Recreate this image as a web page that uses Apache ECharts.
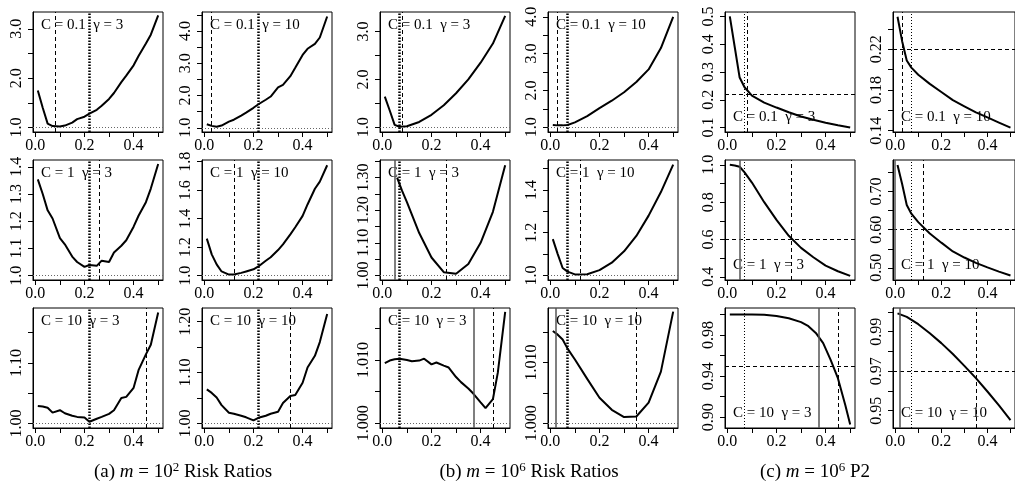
<!DOCTYPE html>
<html>
<head>
<meta charset="utf-8">
<script src="https://cdn.jsdelivr.net/npm/echarts@6/dist/echarts.min.js"></script>
<style>
  html, body { margin: 0; padding: 0; background: #fff; }
  #chart { width: 1015px; height: 493px; }
</style>
</head>
<body>
<div id="chart"></div>
<script>
// x grids
const xA = [0.01, 0.03, 0.05, 0.07, 0.1, 0.12, 0.15, 0.17, 0.2, 0.22, 0.25, 0.27, 0.3, 0.32, 0.35, 0.37, 0.4, 0.42, 0.45, 0.47, 0.5];
const xB = [0.01, 0.03, 0.05, 0.07, 0.1, 0.15, 0.2, 0.25, 0.3, 0.35, 0.4, 0.45, 0.5];
const xB3 = [0.06, 0.08, 0.1, 0.15, 0.2, 0.25, 0.3, 0.35, 0.4, 0.45, 0.5];
const xC5 = [0.01, 0.05, 0.1, 0.15, 0.2, 0.25, 0.3, 0.33, 0.36, 0.39, 0.42, 0.45, 0.48, 0.5];
const xC6 = [0.01, 0.05, 0.1, 0.15, 0.2, 0.25, 0.3, 0.35, 0.4, 0.45, 0.5];

// (a) m = 10^2 risk ratios
const a1 = [1.75, 1.40, 1.08, 1.03, 1.02, 1.04, 1.10, 1.17, 1.22, 1.28, 1.36, 1.44, 1.58, 1.70, 1.92, 2.05, 2.26, 2.45, 2.70, 2.88, 3.27];
const a2 = [1.11, 1.06, 1.03, 1.07, 1.19, 1.25, 1.38, 1.47, 1.62, 1.73, 1.87, 1.97, 2.25, 2.33, 2.60, 2.86, 3.26, 3.45, 3.60, 3.80, 4.45];
const a3 = [1.354, 1.30, 1.24, 1.21, 1.138, 1.115, 1.07, 1.05, 1.032, 1.039, 1.036, 1.055, 1.05, 1.085, 1.11, 1.13, 1.18, 1.22, 1.27, 1.32, 1.41];
const a4 = [1.26, 1.15, 1.08, 1.03, 1.008, 1.008, 1.02, 1.03, 1.045, 1.065, 1.105, 1.13, 1.18, 1.22, 1.29, 1.34, 1.42, 1.50, 1.61, 1.66, 1.775];
const a5 = [1.029, 1.028, 1.026, 1.018, 1.022, 1.017, 1.013, 1.011, 1.01, 1.003, 1.008, 1.011, 1.016, 1.022, 1.042, 1.044, 1.059, 1.088, 1.114, 1.13, 1.183];
const a6 = [1.067, 1.06, 1.051, 1.036, 1.021, 1.019, 1.015, 1.012, 1.006, 1.011, 1.015, 1.019, 1.023, 1.04, 1.054, 1.056, 1.08, 1.11, 1.133, 1.16, 1.215];
// (b) m = 10^6 risk ratios
const b1 = [1.64, 1.35, 1.05, 1.01, 1.02, 1.11, 1.26, 1.46, 1.71, 2.0, 2.35, 2.75, 3.33];
const b2 = [1.06, 1.05, 1.05, 1.06, 1.13, 1.3, 1.52, 1.72, 1.95, 2.23, 2.57, 3.15, 4.0];
const b3 = [1.30, 1.26, 1.225, 1.13, 1.055, 1.01, 1.005, 1.035, 1.10, 1.195, 1.338];
const b4 = [1.17, 1.10, 1.035, 1.018, 1.005, 1.006, 1.025, 1.06, 1.113, 1.185, 1.28, 1.39, 1.518];
const b5 = [1.0095, 1.0099, 1.0101, 1.0102, 1.0100, 1.0098, 1.0099, 1.0102, 1.0093, 1.0096, 1.0091, 1.0088, 1.0073, 1.0065, 1.0055, 1.0047, 1.0033, 1.0024, 1.0038, 1.0080, 1.0176];
const b6 = [1.0152, 1.0146, 1.0138, 1.0123, 1.0105, 1.0073, 1.0042, 1.0022, 1.0010, 1.0011, 1.0034, 1.0085, 1.0184];
// (c) m = 10^6 P2
const c1 = [0.5, 0.39, 0.28, 0.245, 0.215, 0.19, 0.172, 0.155, 0.14, 0.128, 0.117, 0.108, 0.1];
const c2 = [0.252, 0.228, 0.209, 0.202, 0.195, 0.186, 0.178, 0.170, 0.164, 0.158, 0.153, 0.148, 0.143];
const c3 = [1.0, 0.997, 0.99, 0.96, 0.905, 0.80, 0.705, 0.62, 0.555, 0.505, 0.46, 0.43, 0.405];
const c4 = [0.77, 0.72, 0.665, 0.642, 0.62, 0.59, 0.566, 0.543, 0.527, 0.513, 0.501, 0.49, 0.48];
const c5 = [1.0, 1.0, 0.9999, 0.9996, 0.9985, 0.9962, 0.9925, 0.9885, 0.982, 0.972, 0.956, 0.938, 0.912, 0.893];
const c6 = [0.9993, 0.9975, 0.9938, 0.9892, 0.9842, 0.9787, 0.9727, 0.9665, 0.9597, 0.9527, 0.9452];

const panelX = [xA, xA, xB, xB, xB, xB, xA, xA, xB3, xB, xB, xB, xA, xA, xA, xB, xC5, xC6];
const panelY = [a1, a2, b1, b2, c1, c2, a3, a4, b3, b4, c3, c4, a5, a6, b5, b6, c5, c6];

// reference lines, one entry per panel (row by row)
const thickDotX = [0.218, 0.217, 0.069, 0.073, null, null, 0.218, 0.22, 0.068, 0.07, null, null, 0.22, 0.22, 0.066, 0.071, null, null];
const dashedX = [0.082, 0.027, 0.08, 0.026, 0.083, 0.03, 0.263, 0.118, 0.259, 0.118, 0.259, 0.121, 0.453, 0.353, 0.445, 0.349, 0.449, 0.353];
const dottedX = [null, null, null, null, 0.069, 0.073, null, null, null, null, 0.068, 0.073, null, null, null, null, 0.069, 0.073];
const solidX = [null, null, null, null, null, null, null, null, 0.053, null, 0.054, 0.003, null, null, 0.37, 0.019, 0.373, 0.022];
const hLineY = [1, 1, 1, 1, 0.224, 0.2205, 1, 1, 1, 1, 0.605, 0.604, 1, 1, 1, 1, 0.9476, 0.9694];

// axes
const xTicks = [0, 0.1, 0.2, 0.3, 0.4, 0.5];
const xLabels = [0, 0.2, 0.4];
const yMin = [0.91, 0.87, 0.90, 0.87, 0.084, 0.1387, 0.984, 0.97, 0.986, 0.979, 0.383, 0.468, 0.9927, 0.991, 0.99926, 0.9992, 0.8896, 0.9412];
const yMax = [3.34, 4.59, 3.41, 4.13, 0.516, 0.2567, 1.425, 1.812, 1.354, 1.54, 1.026, 0.783, 1.1905, 1.227, 1.0182, 1.019, 1.0062, 1.002];
const yTicks = [
  [1, 1.5, 2, 2.5, 3], [1, 1.5, 2, 2.5, 3, 3.5, 4, 4.5], [1, 1.5, 2, 2.5, 3], [1, 1.5, 2, 2.5, 3, 3.5, 4],
  [0.1, 0.2, 0.3, 0.4, 0.5], [0.14, 0.16, 0.18, 0.2, 0.22, 0.24],
  [1, 1.1, 1.2, 1.3, 1.4], [1, 1.2, 1.4, 1.6, 1.8], [1, 1.05, 1.1, 1.15, 1.2, 1.25, 1.3, 1.35], [1, 1.1, 1.2, 1.3, 1.4, 1.5],
  [0.4, 0.5, 0.6, 0.7, 0.8, 0.9, 1.0], [0.5, 0.55, 0.6, 0.65, 0.7, 0.75],
  [1, 1.05, 1.1, 1.15], [1, 1.05, 1.1, 1.15, 1.2], [1, 1.005, 1.01, 1.015], [1, 1.005, 1.01, 1.015],
  [0.9, 0.92, 0.94, 0.96, 0.98, 1.0], [0.95, 0.96, 0.97, 0.98, 0.99, 1.0]
];
const yLabels = [
  [1, 2, 3], [1, 2, 3, 4], [1, 2, 3], [1, 2, 3, 4],
  [0.1, 0.2, 0.3, 0.4, 0.5], [0.14, 0.18, 0.22],
  [1, 1.1, 1.2, 1.3, 1.4], [1, 1.2, 1.4, 1.6, 1.8], [1, 1.1, 1.2, 1.3], [1, 1.2, 1.4],
  [0.4, 0.6, 0.8, 1.0], [0.5, 0.6, 0.7],
  [1, 1.1], [1, 1.1, 1.2], [1, 1.01], [1, 1.01],
  [0.9, 0.94, 0.98], [0.95, 0.97, 0.99]
];
const yDigits = [1, 1, 1, 1, 1, 2, 1, 1, 2, 1, 1, 2, 2, 2, 3, 3, 2, 2];

const cValues = ['0.1', '1', '10'];
const gammas = ['3', '10', '3', '10', '3', '10'];
const captions = ['(a) {i|m} = 10{s|2} Risk Ratios', '(b) {i|m} = 10{s|6} Risk Ratios', '(c) {i|m} = 10{s|6} P2'];

const colLeft = [33, 202, 380, 548, 725, 893];
const rowTop = [12, 160, 308];
const W = 130, H = 120;
const FONT = 'Liberation Serif';

var chart = echarts.init(document.getElementById('chart'));

let grids = [], xAxes = [], yAxes = [], series = [], graphics = [];
for (let i = 0; i < 18; i++) {
  let r = Math.floor(i / 6), c = i % 6;
  grids.push({
    left: colLeft[c], top: rowTop[r], width: W, height: H,
    show: true, borderColor: '#000', borderWidth: 1, containLabel: false
  });
  xAxes.push({
    type: 'value', gridIndex: i, min: -0.0096, max: 0.5196,
    axisLine: { show: true, onZero: false, lineStyle: { color: '#000', width: 1 } },
    axisTick: { show: true, length: 5, customValues: xTicks, lineStyle: { color: '#000' } },
    axisLabel: {
      customValues: xLabels, margin: 6, color: '#000', fontSize: 16, fontFamily: FONT,
      formatter: v => v.toFixed(1)
    },
    splitLine: { show: false }
  });
  let d = yDigits[i];
  yAxes.push({
    type: 'value', gridIndex: i, min: yMin[i], max: yMax[i],
    axisLine: { show: true, onZero: false, lineStyle: { color: '#000', width: 1 } },
    axisTick: { show: true, length: 5, customValues: yTicks[i], lineStyle: { color: '#000' } },
    axisLabel: {
      customValues: yLabels[i], rotate: 90, margin: 8, color: '#000', fontSize: 16, fontFamily: FONT,
      formatter: v => v.toFixed(d)
    },
    splitLine: { show: false }
  });

  let lines = [];
  if (c < 4) {
    lines.push({ yAxis: hLineY[i], lineStyle: { color: '#666', width: 1, type: [1, 2] } });
  } else {
    lines.push({ yAxis: hLineY[i], lineStyle: { color: '#000', width: 1, type: [4, 3] } });
  }
  if (solidX[i] != null) lines.push({ xAxis: solidX[i], lineStyle: { color: '#555', width: 1.5, type: 'solid' } });
  if (dottedX[i] != null) lines.push({ xAxis: dottedX[i], lineStyle: { color: '#000', width: 1, type: [1, 2] } });
  if (dashedX[i] != null) lines.push({ xAxis: dashedX[i], lineStyle: { color: '#000', width: 1, type: [4, 3] } });
  if (thickDotX[i] != null) lines.push({ xAxis: thickDotX[i], lineStyle: { color: '#000', width: 2.5, type: [1.5, 1.5] } });

  series.push({
    type: 'line', xAxisIndex: i, yAxisIndex: i,
    data: panelX[i].map((x, k) => [x, panelY[i][k]]),
    showSymbol: false, symbol: 'none', clip: true,
    lineStyle: { color: '#000', width: 2 },
    animation: false,
    markLine: {
      silent: true, symbol: ['none', 'none'], label: { show: false },
      animation: false, data: lines
    }
  });

  let label = 'C = ' + cValues[r] + '  \u03b3 = ' + gammas[c];
  graphics.push({
    type: 'text',
    x: colLeft[c] + 8,
    y: c < 4 ? rowTop[r] + 13 : rowTop[r] + H - 15,
    style: { text: label, font: '15px "' + FONT + '"', fill: '#000', verticalAlign: 'middle' }
  });
}

const capX = [183, 529, 815];
for (let k = 0; k < 3; k++) {
  graphics.push({
    type: 'text', x: capX[k], y: 472,
    style: {
      text: captions[k], font: '19px "' + FONT + '"', fill: '#000',
      align: 'center', verticalAlign: 'middle',
      rich: {
        i: { fontStyle: 'italic', fontSize: 19, fontFamily: FONT },
        s: { fontSize: 13, fontFamily: FONT, padding: [0, 0, 9, 0] }
      }
    }
  });
}

chart.setOption({
  animation: false,
  grid: grids,
  xAxis: xAxes,
  yAxis: yAxes,
  series: series,
  graphic: graphics
});
</script>
</body>
</html>
